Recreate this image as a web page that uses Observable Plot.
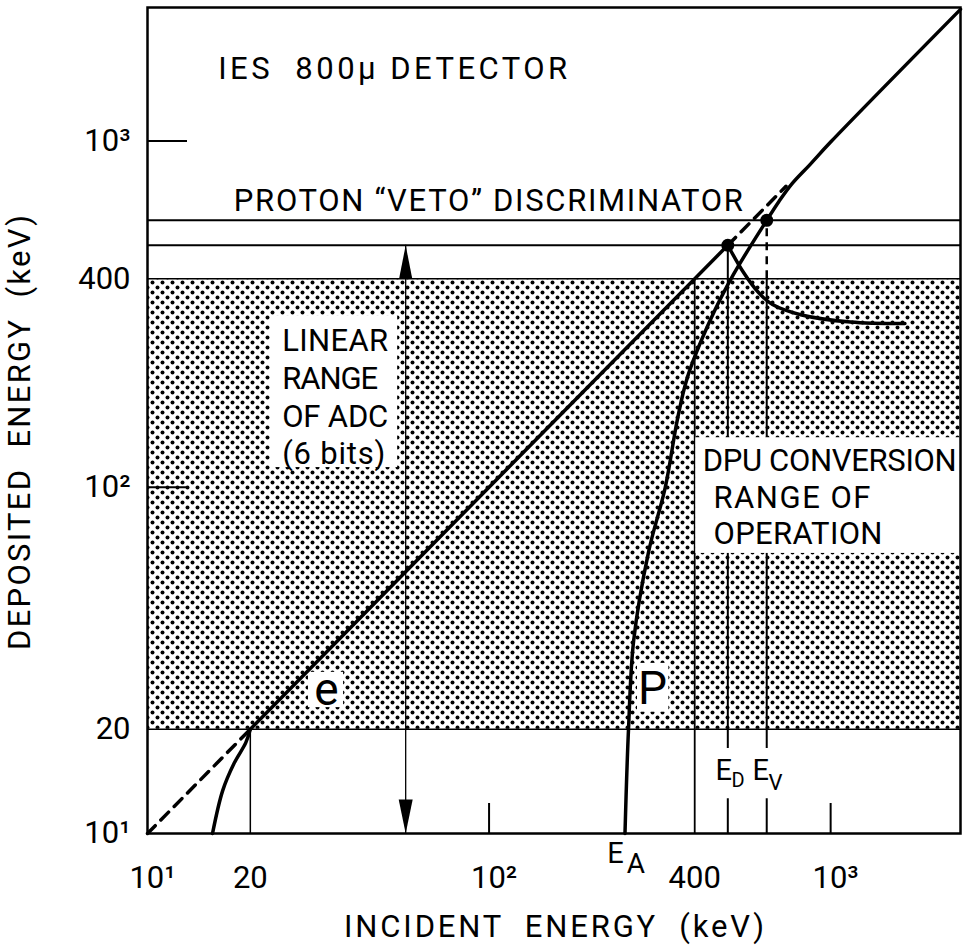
<!DOCTYPE html>
<html><head><meta charset="utf-8">
<script src="https://cdn.jsdelivr.net/npm/d3@7"></script>
<script src="https://cdn.jsdelivr.net/npm/@observablehq/plot@0.6"></script>
<style>
body{margin:0;background:#fff}
</style>
</head><body><div id="chart"></div>
<script>
const FONT = "Roboto, 'DejaVu Sans', sans-serif";

// ---- data (incident keV, deposited keV) ----
const eLowDashed = [[10,10],[20,20]];
const eLowCurve = [[15.5,10],[16.6,13.3],[17.9,15.9],[19.4,18.3],[20,20]];
const eLine = [[20,20],[500,500]];
const eUpperDashed = [[500,500],[740,740]];
const pCurve = [[250,10],[256,20],[265,36],[293,65],[328,100],[356,157],[381,208],[445,305],[519,411],[650,590],[705,668],[770,752],[870,855],[1000,993],[2400,2400]];
const dpuCurve = [[500,500],[556,417],[615,365],[676,337],[817,315],[1143,300],[1650,297]];

const levels = [{y:590,w:2},{y:500,w:2},{y:400,w:1.5},{y:20,w:1.5}];
const adcBand = [{x1:10,x2:2400,y1:20,y2:400}];
const verticals = [{x:20,y1:10,y2:20,w:1.5},{x:400,y1:10,y2:400,w:1.8},{x:500,y1:10,y2:500,w:2},{x:650,y1:10,y2:400,w:2}];
const dashedVerticals = [{x:650,y1:400,y2:590}];
const adcArrow = [{x:57,y1:10,y2:500}];
const points = [[500,500],[650,590]];

const whiteBoxes = [
  {x1:22.9,x2:54,y1:114,y2:313},
  {x1:403,x2:2400,y1:64.4,y2:139},
  {x1:454,x2:764,y1:12.6,y2:17.6},
  {x1:29.6,x2:37.5,y1:23.1,y2:29.2},
  {x1:272,x2:336,y1:22.4,y2:31}
];

const labels31 = [
  {x:16.1,y:1610,t:"IES  800\u03bc DETECTOR"},
  {x:17.9,y:669,t:"PROTON \u201CVETO\u201D DISCRIMINATOR"},
  {x:24.8,y:264,t:"LINEAR"},
  {x:24.8,y:205,t:"RANGE"},
  {x:24.8,y:160,t:"OF ADC"},
  {x:24.8,y:125,t:"(6 bits)"},
  {x:422,y:118.7,t:"DPU CONVERSION"},
  {x:454,y:92.8,t:"RANGE OF"},
  {x:454,y:73.1,t:"OPERATION"}
];
const bigLabels = [{x:33.4,y:25.9,t:"e"},{x:301,y:26.1,t:"P"}];
const eLetters = [{x:460,y:15.2,t:"E"},{x:591,y:15.2,t:"E"},{x:222,y:8.75,t:"E"}];
const subLetters = [{x:513,y:14.2,t:"D",w:"bold",s:20},{x:658,y:14.0,t:"V",w:"normal",s:22},{x:253,y:8.15,t:"A",w:"normal",s:28}];

const xSupTicks = [10,100,1000];
const xSupLabels = ["10\u00b9","10\u00b2","10\u00b3"];
const xPlainTicks = [20,400];
const yTicks = [10,20,100,400,1000];
const yTickLabels = ["10\u00b9","20","10\u00b2","400","10\u00b3"];
const innerTicks = [100,1000];
const xTitle = "INCIDENT  ENERGY  (keV)";
const yTitle = "DEPOSITED  ENERGY  (keV)";

// lettering widths measured on the reference (style only)
const textWidths = new Map([
  ["IES  800\u03bc DETECTOR",349],
  ["PROTON \u201CVETO\u201D DISCRIMINATOR",509],
  ["LINEAR",106],["RANGE",96],["OF ADC",106],["(6 bits)",103],
  ["DPU CONVERSION",254],["RANGE OF",157],["OPERATION",169],
  [xTitle,420],[yTitle,435]
]);

const arrowUp = {draw(ctx){ctx.moveTo(0,0);ctx.lineTo(-6.5,33);ctx.lineTo(6.5,33);ctx.closePath();}};
const arrowDown = {draw(ctx){ctx.moveTo(0,0);ctx.lineTo(-7,-34);ctx.lineTo(7,-34);ctx.closePath();}};

const P = d => d[0], Q = d => d[1];
const lineOpts = {x:P, y:Q, stroke:"black", strokeWidth:3.5, curve:"catmull-rom"};

const plot = Plot.plot({
  width:963, height:946,
  marginLeft:147, marginRight:3, marginTop:7, marginBottom:113,
  x:{type:"log", domain:[10,2400]},
  y:{type:"log", domain:[10,2430]},
  style:{fontFamily:FONT, background:"white", color:"black"},
  marks:[
    Plot.rect(adcBand,{x1:"x1",x2:"x2",y1:"y1",y2:"y2",fill:"url(#dots)"}),
    Plot.ruleX(verticals,{x:"x",y1:"y1",y2:"y2",stroke:"black",strokeWidth:"w"}),
    Plot.ruleX(dashedVerticals,{x:"x",y1:"y1",y2:"y2",stroke:"black",strokeWidth:2.5,strokeDasharray:"8,6"}),
    Plot.ruleX(adcArrow,{x:"x",y1:"y1",y2:"y2",stroke:"black",strokeWidth:1.3}),
    Plot.dot(adcArrow,{x:"x",y:"y2",symbol:arrowUp,fill:"black",stroke:null}),
    Plot.dot(adcArrow,{x:"x",y:"y1",symbol:arrowDown,fill:"black",stroke:null}),
    Plot.rect(whiteBoxes,{x1:"x1",x2:"x2",y1:"y1",y2:"y2",fill:"white"}),
    Plot.ruleY(levels,{y:"y",stroke:"black",strokeWidth:d=>d.w}),
    Plot.line(eLowDashed,{...lineOpts,curve:"linear",strokeDasharray:"11,8"}),
    Plot.line(eLowCurve,lineOpts),
    Plot.line(eLine,{...lineOpts,curve:"linear"}),
    Plot.line(eUpperDashed,{...lineOpts,curve:"linear",strokeDasharray:"11,8"}),
    Plot.line(pCurve,lineOpts),
    Plot.line(dpuCurve,lineOpts),
    Plot.dot(points,{x:P,y:Q,r:6.5,fill:"black"}),
    Plot.text(labels31,{x:"x",y:"y",text:"t",textAnchor:"start",lineAnchor:"middle",fontSize:31,fill:"black"}),
    Plot.text(bigLabels,{x:"x",y:"y",text:"t",textAnchor:"middle",lineAnchor:"middle",fontSize:46,fill:"black"}),
    Plot.text(eLetters,{x:"x",y:"y",text:"t",textAnchor:"start",lineAnchor:"middle",fontSize:29,fill:"black"}),
    Plot.text(subLetters,{x:"x",y:"y",text:"t",textAnchor:"start",lineAnchor:"middle",fontSize:d=>d.s,fontWeight:d=>d.w,fill:"black"}),
    Plot.frame({stroke:"black",strokeWidth:2.5}),
    Plot.axisY(yTicks,{tickFormat:d=>yTickLabels[yTicks.indexOf(d)],tickSize:0,tickPadding:17,fontSize:31,label:null}),
    Plot.axisY(innerTicks,{tickSize:-40,strokeWidth:2,tickFormat:()=>"",label:null}),
    Plot.axisX(xSupTicks,{tickFormat:d=>xSupLabels[xSupTicks.indexOf(d)],tickSize:0,tickPadding:32,dx:5,fontSize:31,label:null}),
    Plot.axisX(xPlainTicks,{tickFormat:d=>String(d),tickSize:0,tickPadding:32,fontSize:31,label:null}),
    Plot.axisX(innerTicks,{tickSize:-30,strokeWidth:2,tickFormat:()=>"",label:null}),
    Plot.text([xTitle],{frameAnchor:"bottom",dy:94,textAnchor:"middle",lineAnchor:"middle",fontSize:31,fill:"black"}),
    Plot.text([yTitle],{frameAnchor:"left",dx:-127,dy:12,rotate:-90,textAnchor:"middle",lineAnchor:"middle",fontSize:31,fill:"black"})
  ]
});

const defs = d3.select(plot).insert("defs",":first-child");
const pat = defs.append("pattern").attr("id","dots").attr("patternUnits","userSpaceOnUse").attr("width",10).attr("height",10);
pat.append("rect").attr("width",10).attr("height",10).attr("fill","white");
pat.append("circle").attr("cx",2.5).attr("cy",2.5).attr("r",2).attr("fill","black");
pat.append("circle").attr("cx",7.5).attr("cy",7.5).attr("r",2).attr("fill","black");
document.getElementById("chart").appendChild(plot);

d3.select(plot).selectAll("text").each(function(){
  const w = textWidths.get(this.textContent);
  if (w) { this.setAttribute("textLength", w); this.setAttribute("lengthAdjust","spacing"); }
});
</script>
</body></html>
